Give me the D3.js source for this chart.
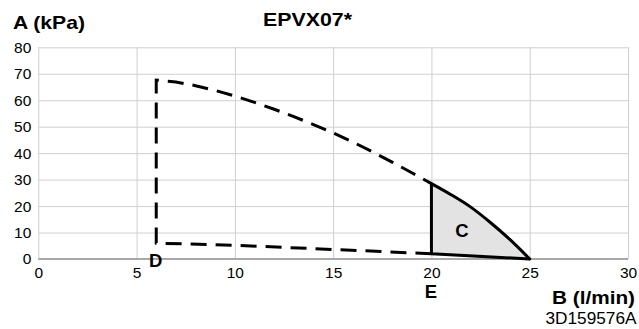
<!DOCTYPE html>
<html><head><meta charset="utf-8">
<script src="https://cdn.jsdelivr.net/npm/d3@7"></script>
<style>body{margin:0;background:#fff}svg{display:block}text{font-family:"Liberation Sans",Arial,sans-serif;fill:#000}</style>
</head><body><svg id="c" width="639" height="329"></svg>
<script>
// ---- data ----
const xTicks = [0, 5, 10, 15, 20, 25, 30];
const yTicks = [0, 10, 20, 30, 40, 50, 60, 70, 80];
// dashed limit outline (flow l/min, head kPa)
const limitFlow = [20, 15, 10, 6, 6, 7, 8, 9, 10, 11, 12, 13, 14, 15, 16, 17, 18, 19, 20];
const limitHead = [2, 3.6, 5.2, 6, 67.6, 66.9, 65.5, 63.7, 61.6, 59.2, 56.6, 53.8, 50.8, 47.7, 44.2, 40.5, 36.6, 32.6, 28.5];
// solid operating area C: upper curve and base
const curveFlow = [20, 21, 22, 23, 24, 25];
const curveHead = [28.5, 24.3, 19.6, 13.8, 7.3, 0];
const baseFlow = [25, 20, 20];
const baseHead = [0, 2, 28.5];

const svg = d3.select("#c");
const x = d3.scaleLinear().domain([0, 30]).range([38.3, 628]);
const y = d3.scaleLinear().domain([0, 80]).range([259, 47.3]);
const plotH = y(0) - y(80), plotW = x(30) - x(0);

// grid + axes
const gx = svg.append("g").attr("transform", `translate(0,${y(0)})`)
  .call(d3.axisBottom(x).tickValues(xTicks).tickSize(-plotH).tickPadding(8).tickFormat(d3.format("d")));
const gy = svg.append("g").attr("transform", `translate(${x(0)},0)`)
  .call(d3.axisLeft(y).tickValues(yTicks).tickSize(-plotW).tickPadding(7).tickFormat(d3.format("d")));
[gx, gy].forEach(g => {
  g.select(".domain").remove();
  g.selectAll(".tick line").attr("stroke", "#cfcfcf").attr("stroke-width", 1);
  g.selectAll(".tick text").attr("font-size", 15.5).attr("font-family", "Liberation Sans, Arial, sans-serif").attr("fill", "#000");
});
gx.selectAll(".tick text").attr("dy", "0.71em");
svg.append("line").attr("x1", x(0)).attr("x2", x(30)).attr("y1", y(0)).attr("y2", y(0))
  .attr("stroke", "#a8a8a8").attr("stroke-width", 2);

const limitPts = limitFlow.map((f, i) => [f, limitHead[i]]);
const curvePts = curveFlow.map((f, i) => [f, curveHead[i]]);
const basePts = baseFlow.map((f, i) => [f, baseHead[i]]);
const line = d3.line().x(d => x(d[0])).y(d => y(d[1]));
const smooth = d3.line().x(d => x(d[0])).y(d => y(d[1])).curve(d3.curveMonotoneX);

svg.append("path").attr("d", smooth(curvePts) + line(basePts).replace(/^M/, "L") + "Z")
  .attr("fill", "#e3e3e3").attr("stroke", "none");
svg.append("path").attr("d", line(limitPts)).attr("fill", "none").attr("stroke", "#000")
  .attr("stroke-width", 3).attr("stroke-dasharray", "16,9").attr("stroke-linejoin", "miter");
svg.append("path").attr("d", smooth(curvePts)).attr("fill", "none").attr("stroke", "#000")
  .attr("stroke-width", 3).attr("stroke-linecap", "round");
svg.append("path").attr("d", line(basePts)).attr("fill", "none").attr("stroke", "#000")
  .attr("stroke-width", 3).attr("stroke-linejoin", "round");

function label(t, px, py, size, bold, anchor, len) {
  const el = svg.append("text").attr("x", px).attr("y", py).attr("font-size", size)
    .attr("font-weight", bold ? "bold" : "normal").attr("text-anchor", anchor).text(t);
  if (len) el.attr("textLength", len).attr("lengthAdjust", "spacingAndGlyphs");
  return el;
}
label("A (kPa)", 13, 29, 18.5, true, "start", 72);
label("EPVX07*", 263, 26, 17.7, true, "start", 89);
label("D", 155.8, 266.7, 18.5, true, "middle");
label("E", 431, 298.3, 18.5, true, "middle");
label("C", 462, 236.7, 18.5, true, "middle");
label("B (l/min)", 635, 304, 18.5, true, "end", 83);
label("3D159576A", 636.5, 324, 17, false, "end", 91);
</script></body></html>
